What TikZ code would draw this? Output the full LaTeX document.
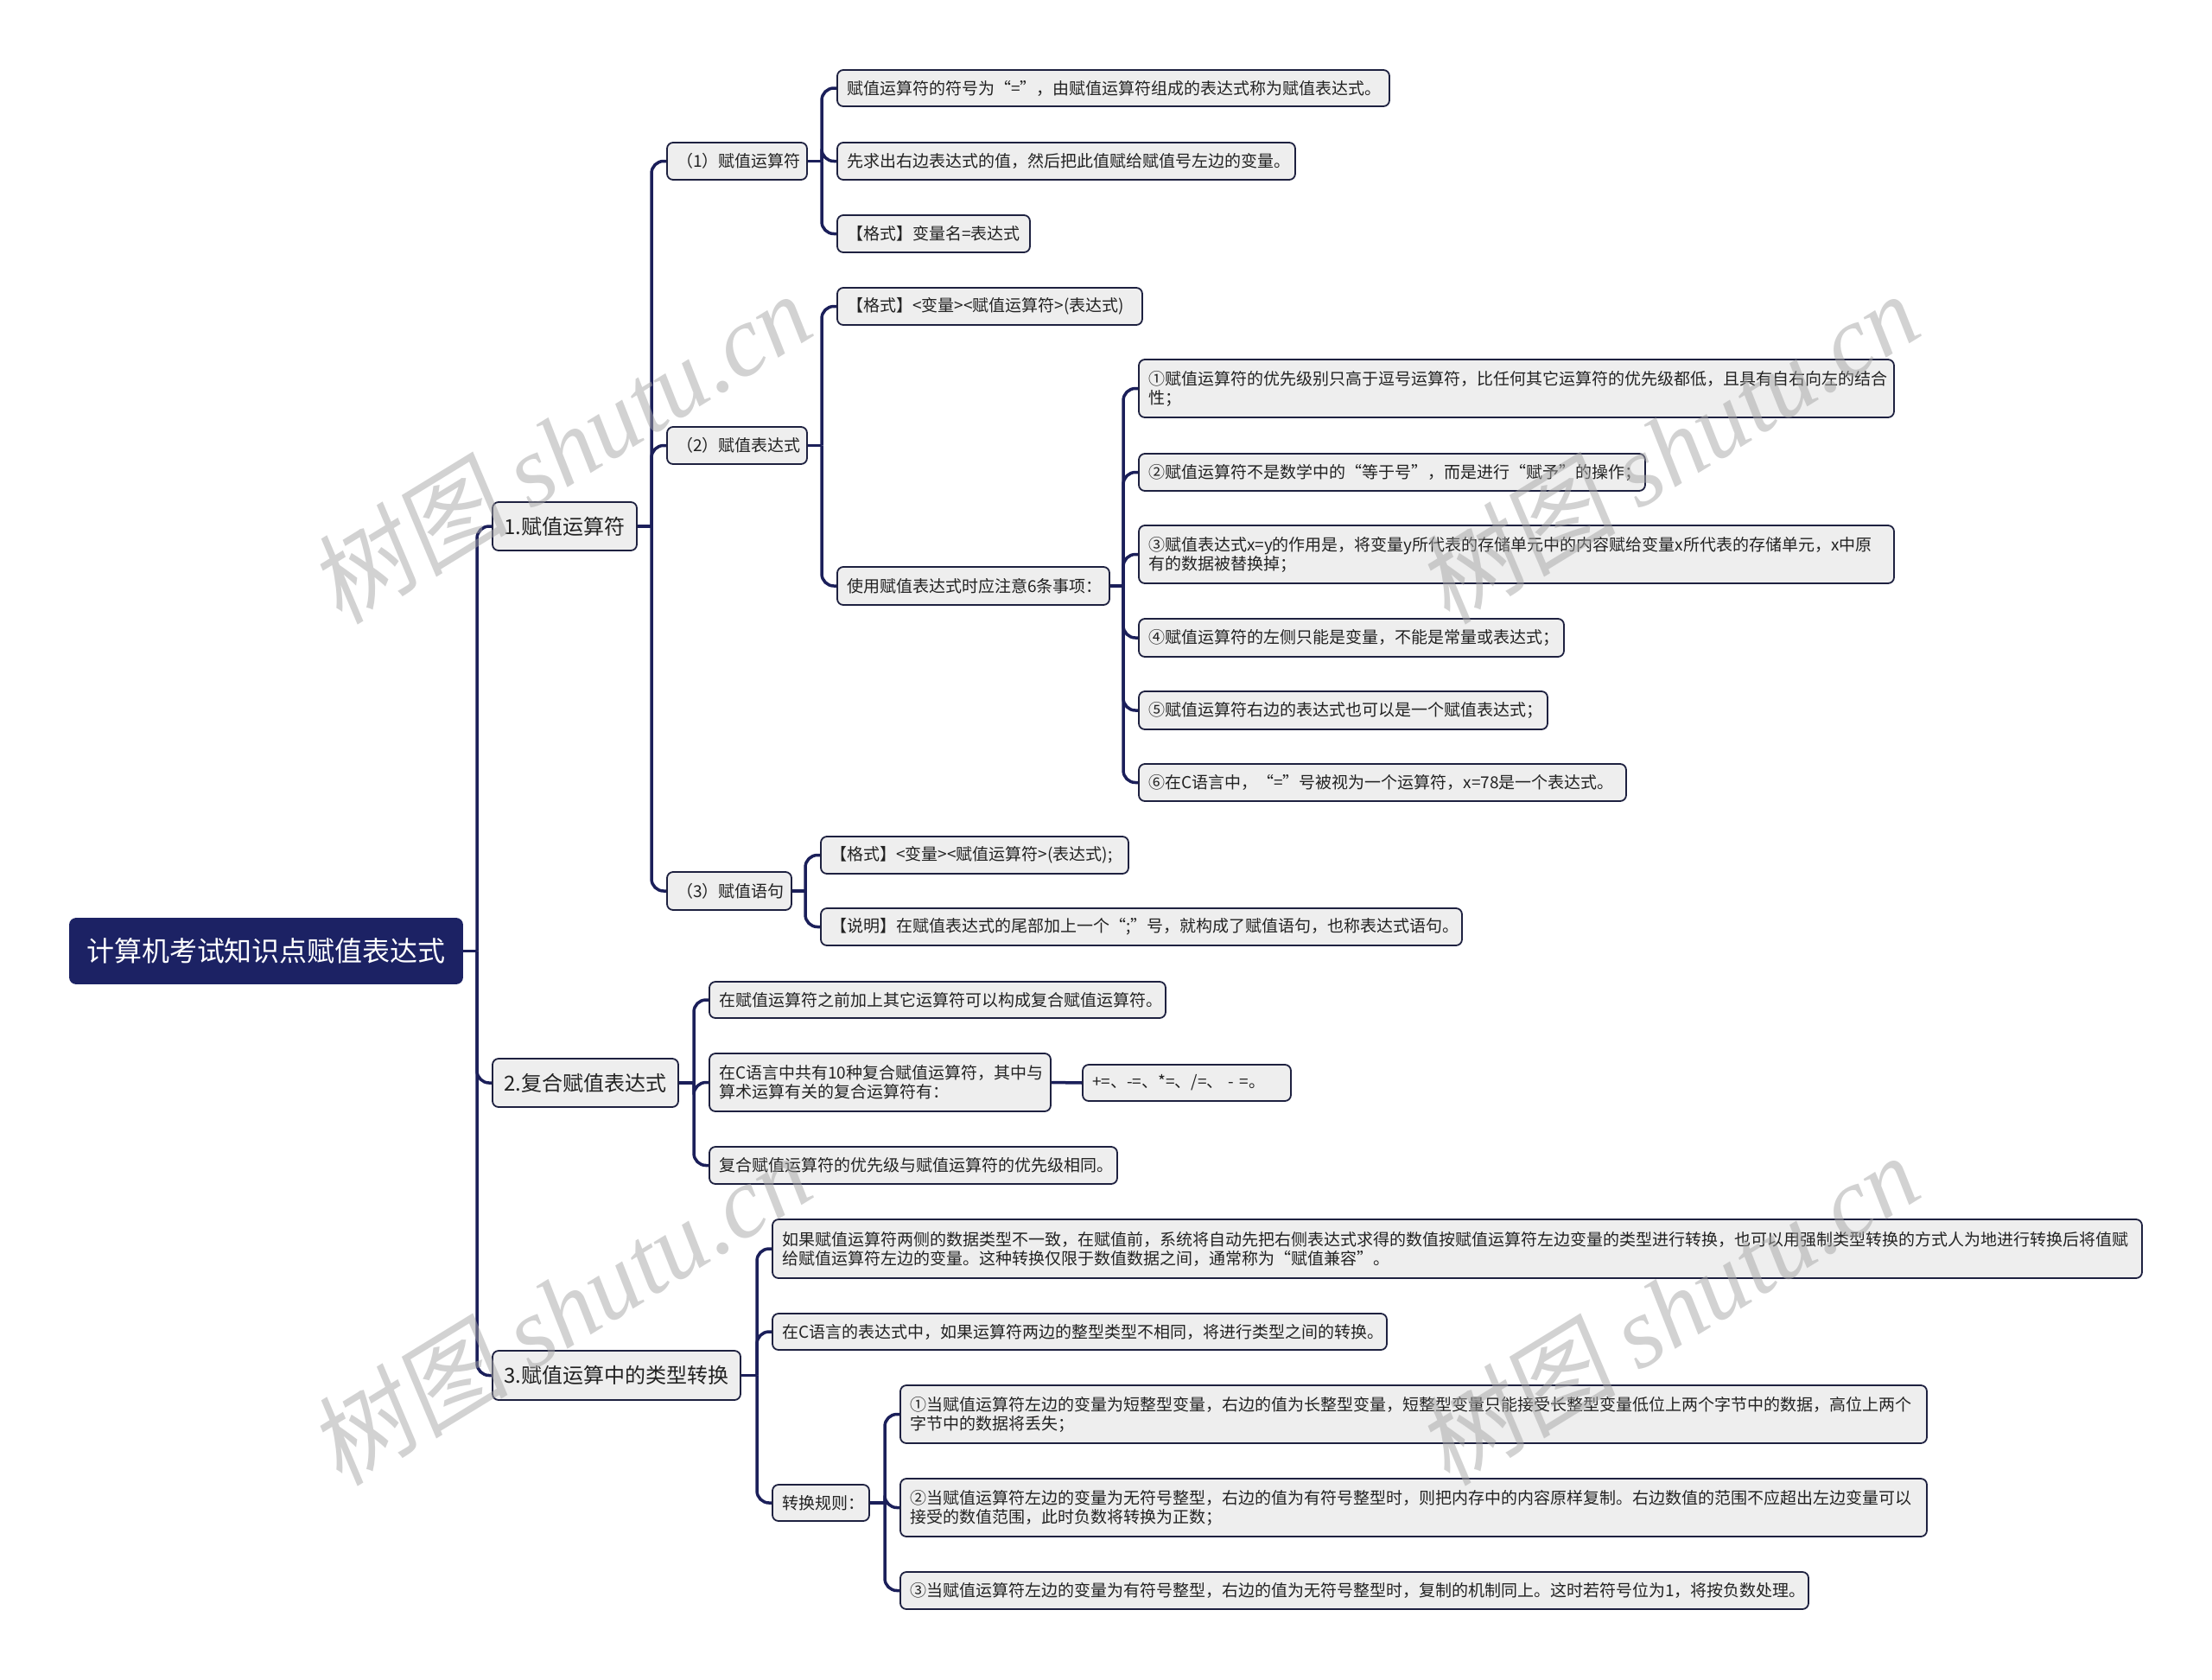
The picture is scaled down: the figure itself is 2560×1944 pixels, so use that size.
\documentclass[tikz,border=0pt]{standalone}
\usepackage{fontspec}
\setmainfont{Noto Sans CJK SC}
\newfontfamily\wmlatin{Liberation Serif}
\newfontfamily\wmcjk{Noto Sans CJK SC}[FakeSlant=0.15]
\usetikzlibrary{calc}
\pgfdeclarelayer{bg}
\pgfsetlayers{bg,main}
\definecolor{navy}{HTML}{1B1F5A}
\definecolor{rootfill}{HTML}{1C2264}
\definecolor{boxfill}{HTML}{EEEEEE}
\definecolor{boxline}{HTML}{1E2140}
\definecolor{txt}{HTML}{222222}
\tikzset{
  box/.style={draw=boxline, line width=1.8pt, fill=boxfill, rounded corners=7pt,
    inner xsep=11pt, inner ysep=0pt, outer sep=0pt, align=left, text=txt,
    font=\fontsize{19pt}{22pt}\selectfont},
  lvltwo/.style={box, align=center},
  lvlone/.style={box, align=center, font=\fontsize{24pt}{28pt}\selectfont},
  rootbox/.style={box, draw=rootfill, fill=rootfill, text=white, align=center,
    font=\fontsize{32pt}{36pt}\selectfont},
  conn/.style={draw=navy, line width=3.5pt},
  wm/.style={text=gray!70, text opacity=0.5, rotate=31.5, inner sep=0pt,
    font=\fontsize{116pt}{120pt}\selectfont}
}
\newcommand\bx[7]{%
  \pgfmathsetmacro\mytw{#5-#3-22}%
  \pgfmathsetmacro\myhh{#6-#4}%
  \node[#1, anchor=north west, text width=\mytw pt, minimum height=\myhh pt] (#2) at (#3,#4) {#7};}
\newcommand\lk[2]{%
  \path (#2.west) ++(-18pt,0pt) coordinate (sp);
  \draw[conn] (#1.east) -- (sp |- #1.east);
  \draw[conn, rounded corners=14pt] (sp |- #1.east) |- (#2.west);}
\begin{document}
\begin{tikzpicture}[x=1pt,y=-1pt]
\useasboundingbox (0,0) rectangle (2560,1944);
\begin{pgfonlayer}{bg}
\fill[white] (0,0) rectangle (2560,1944);
\end{pgfonlayer}
% root and level 1
\bx{rootbox}{root}{81}{1063}{535}{1138}{计算机考试知识点赋值表达式}
\bx{lvlone}{La}{570}{581}{737}{637}{1.赋值运算符}
\bx{lvlone}{Lb}{570}{1225}{785}{1281}{2.复合赋值表达式}
\bx{lvlone}{Lc}{570}{1563}{857}{1620}{3.赋值运算中的类型转换}
% level 2
\bx{lvltwo}{A1}{772}{165}{934}{208}{（1）赋值运算符}
\bx{lvltwo}{A2}{772}{494}{934}{537}{（2）赋值表达式}
\bx{lvltwo}{A3}{772}{1009}{916}{1053}{（3）赋值语句}
% under (1)
\bx{box}{B1}{969}{81}{1608}{123}{赋值运算符的符号为“=”，由赋值运算符组成的表达式称为赋值表达式。}
\bx{box}{B2}{969}{165}{1499}{208}{先求出右边表达式的值，然后把此值赋给赋值号左边的变量。}
\bx{box}{B3}{969}{249}{1192}{292}{【格式】变量名=表达式}
% under (2)
\bx{box}{C1}{969}{333}{1322}{376}{【格式】<变量><赋值运算符>(表达式)}
\bx{box}{C2}{969}{656}{1284}{700}{使用赋值表达式时应注意6条事项：}
\bx{box}{D1}{1318}{416}{2192}{483}{①赋值运算符的优先级别只高于逗号运算符，比任何其它运算符的优先级都低，且具有自右向左的结合\\性；}
\bx{box}{D2}{1318}{525}{1904}{568}{②赋值运算符不是数学中的“等于号”，而是进行“赋予”的操作；}
\bx{box}{D3}{1318}{608}{2192}{675}{③赋值表达式x=y的作用是，将变量y所代表的存储单元中的内容赋给变量x所代表的存储单元，x中原\\有的数据被替换掉；}
\bx{box}{D4}{1318}{716}{1810}{760}{④赋值运算符的左侧只能是变量，不能是常量或表达式；}
\bx{box}{D5}{1318}{800}{1791}{844}{⑤赋值运算符右边的表达式也可以是一个赋值表达式；}
\bx{box}{D6}{1318}{884}{1882}{927}{⑥在C语言中，“=”号被视为一个运算符，x=78是一个表达式。}
% under (3)
\bx{box}{E1}{950}{968}{1306}{1011}{【格式】<变量><赋值运算符>(表达式);}
\bx{box}{E2}{950}{1051}{1692}{1094}{【说明】在赋值表达式的尾部加上一个“;”号，就构成了赋值语句，也称表达式语句。}
% under 2.
\bx{box}{F1}{821}{1136}{1349}{1178}{在赋值运算符之前加上其它运算符可以构成复合赋值运算符。}
\bx{box}{F2}{821}{1219}{1216}{1286}{在C语言中共有10种复合赋值运算符，其中与\\算术运算有关的复合运算符有：}
\bx{box}{F3}{1253}{1232}{1494}{1274}{+=、-=、*=、/=、 - =。}
\bx{box}{F4}{821}{1327}{1293}{1370}{复合赋值运算符的优先级与赋值运算符的优先级相同。}
% under 3.
\bx{box}{G1}{894}{1411}{2479}{1479}{如果赋值运算符两侧的数据类型不一致，在赋值前，系统将自动先把右侧表达式求得的数值按赋值运算符左边变量的类型进行转换，也可以用强制类型转换的方式人为地进行转换后将值赋\\给赋值运算符左边的变量。这种转换仅限于数值数据之间，通常称为“赋值兼容”。}
\bx{box}{G2}{894}{1520}{1605}{1562}{在C语言的表达式中，如果运算符两边的整型类型不相同，将进行类型之间的转换。}
\bx{box}{G3}{894}{1718}{1006}{1760}{转换规则：}
\bx{box}{H1}{1042}{1603}{2230}{1670}{①当赋值运算符左边的变量为短整型变量，右边的值为长整型变量，短整型变量只能接受长整型变量低位上两个字节中的数据，高位上两个\\字节中的数据将丢失；}
\bx{box}{H2}{1042}{1711}{2230}{1778}{②当赋值运算符左边的变量为无符号整型，右边的值为有符号整型时，则把内存中的内容原样复制。右边数值的范围不应超出左边变量可以\\接受的数值范围，此时负数将转换为正数；}
\bx{box}{H3}{1042}{1819}{2093}{1862}{③当赋值运算符左边的变量为有符号整型，右边的值为无符号整型时，复制的机制同上。这时若符号位为1，将按负数处理。}
% connectors
\begin{pgfonlayer}{bg}
\lk{root}{La}\lk{root}{Lb}\lk{root}{Lc}
\lk{La}{A1}\lk{La}{A2}\lk{La}{A3}
\lk{A1}{B1}\lk{A1}{B2}\lk{A1}{B3}
\lk{A2}{C1}\lk{A2}{C2}
\lk{C2}{D1}\lk{C2}{D2}\lk{C2}{D3}\lk{C2}{D4}\lk{C2}{D5}\lk{C2}{D6}
\lk{A3}{E1}\lk{A3}{E2}
\lk{Lb}{F1}\lk{Lb}{F2}\lk{Lb}{F4}
\draw[conn] (F2.east) -- (F3.west);
\lk{Lc}{G1}\lk{Lc}{G2}\lk{Lc}{G3}
\lk{G3}{H1}\lk{G3}{H2}\lk{G3}{H3}
\end{pgfonlayer}
% watermarks
\node[wm] (wm1) at (648,518) {{\wmcjk 树图} {\wmlatin\itshape shutu.cn}};
\node[wm] (wm2) at (1930,518) {{\wmcjk 树图} {\wmlatin\itshape shutu.cn}};
\node[wm] (wm3) at (648,1515) {{\wmcjk 树图} {\wmlatin\itshape shutu.cn}};
\node[wm] (wm4) at (1930,1515) {{\wmcjk 树图} {\wmlatin\itshape shutu.cn}};
\end{tikzpicture}
\end{document}
